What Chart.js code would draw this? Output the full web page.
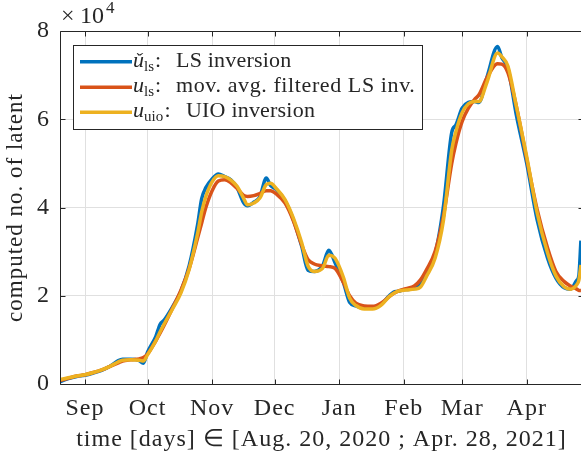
<!DOCTYPE html>
<html><head><meta charset="utf-8">
<script src="https://cdn.jsdelivr.net/npm/chart.js@4/dist/chart.umd.min.js"></script>
<style>html,body{margin:0;padding:0;background:#fff;overflow:hidden;width:581px;height:459px}</style>
</head><body>
<canvas id="c" width="590" height="459" style="display:block;width:590px;height:459px"></canvas>
<script>
// days since Aug. 20, 2020
const days = [0,4,8,12,16,20,24,28,30,34,38,40,42,46,48,50,54,58,62,66,68,70,73,76,79,82,85,88,90,93,96,99,101,104,108,112,116,119,122,126,129,132,136,139,142,146,150,154,158,160,162,166,170,173,176,180,184,188,190,193,196,199,201,205,210,212,215,219,224,229,234,238,242,245,248,249,250];
// values in units of 10^4
const lsInversion = [0.05,0.12,0.17,0.20,0.25,0.31,0.40,0.53,0.56,0.56,0.53,0.47,0.72,1.08,1.35,1.45,1.75,2.10,2.68,3.60,4.20,4.45,4.65,4.76,4.70,4.63,4.45,4.12,4.04,4.12,4.25,4.67,4.50,4.40,4.15,3.72,3.12,2.58,2.55,2.68,3.03,2.75,2.30,1.85,1.77,1.72,1.72,1.80,2.00,2.08,2.10,2.14,2.16,2.28,2.55,2.95,4.02,5.70,5.87,6.25,6.38,6.40,6.38,6.97,7.65,7.40,7.15,6.10,5.00,3.72,2.85,2.40,2.18,2.15,2.35,2.45,3.25];
const movAvgFiltered = [0.08,0.13,0.18,0.21,0.26,0.32,0.40,0.48,0.52,0.55,0.57,0.60,0.68,0.98,1.15,1.33,1.72,2.12,2.62,3.30,3.65,4.00,4.38,4.60,4.63,4.56,4.43,4.28,4.25,4.27,4.32,4.38,4.38,4.30,4.10,3.70,3.15,2.82,2.72,2.68,2.66,2.62,2.30,2.00,1.83,1.77,1.76,1.83,1.98,2.05,2.10,2.16,2.22,2.36,2.60,3.00,3.80,5.00,5.45,5.95,6.25,6.45,6.55,6.95,7.26,7.25,7.05,6.30,5.10,3.95,3.08,2.55,2.32,2.22,2.15,2.12,2.12];
const uioInversion = [0.10,0.14,0.18,0.21,0.26,0.32,0.40,0.50,0.54,0.55,0.54,0.52,0.66,0.98,1.18,1.36,1.70,2.06,2.60,3.40,3.90,4.25,4.58,4.72,4.70,4.62,4.48,4.22,4.06,4.10,4.22,4.52,4.55,4.42,4.18,3.76,3.20,2.68,2.55,2.62,2.92,2.85,2.42,1.95,1.78,1.70,1.70,1.78,1.98,2.05,2.10,2.13,2.15,2.20,2.45,2.85,3.70,5.30,5.72,6.15,6.35,6.40,6.40,6.85,7.50,7.42,7.20,6.30,5.15,3.88,2.97,2.45,2.20,2.15,2.25,2.35,2.70];
const monthTickDays = [12,42,73,103,134,165,193,224];
const monthTickLabels = ['Sep','Oct','Nov','Dec','Jan','Feb','Mar','Apr'];
const yTickValues = [0,20000,40000,60000,80000];
const SCALE = 10000;

const F = "'Liberation Serif','Times New Roman',serif";
const INK = '#262626';
const GRID = '#e0e0e0';
const COLORS = ['#0072BD','#D95319','#EDB120'];

const toPts = arr => days.map((d,i)=>({x:d, y:arr[i]*SCALE}));

const framePlugin = {
  id:'frame',
  beforeDraw(chart){ chart.ctx.letterSpacing = '1px'; },
  afterDatasetsDraw(chart){
    const {ctx, chartArea:a, scales:{x,y}} = chart;
    ctx.save();
    ctx.letterSpacing = '0px';
    ctx.strokeStyle = INK; ctx.lineWidth = 1;
    const L = Math.round(a.left)+0.5, T = Math.round(a.top)+0.5, R = Math.round(a.right)+0.5, B = Math.round(a.bottom)+0.5;
    ctx.beginPath();
    ctx.moveTo(L,T); ctx.lineTo(R,T); ctx.lineTo(R,B); ctx.lineTo(L,B); ctx.closePath();
    monthTickDays.forEach(d=>{ const px=Math.round(x.getPixelForValue(d))+0.5; ctx.moveTo(px,B); ctx.lineTo(px,B-5); ctx.moveTo(px,T); ctx.lineTo(px,T+5); });
    yTickValues.forEach(v=>{ const py=Math.round(y.getPixelForValue(v))+0.5; ctx.moveTo(L,py); ctx.lineTo(L+5,py); ctx.moveTo(R,py); ctx.lineTo(R-5,py); });
    ctx.stroke();

    // exponent label
    ctx.fillStyle = INK; ctx.textBaseline = 'alphabetic'; ctx.textAlign = 'left';
    ctx.font = `24px ${F}`;
    ctx.fillText('×', 61, 23);
    ctx.fillText('10', 80, 23);
    ctx.font = `17px ${F}`;
    ctx.fillText('4', 106, 13);

    // legend
    ctx.fillStyle = '#ffffff';
    ctx.fillRect(73.5,45.5,349,84);
    ctx.strokeStyle = INK; ctx.lineWidth = 1;
    ctx.strokeRect(73.5,45.5,349,84);
    const rows = [
      {sym:'ǔ', sub:'ls', colonX:155, textX:176, text:'LS inversion', ly:61.7, by:66.5},
      {sym:'u', sub:'ls', colonX:155, textX:176, text:'mov. avg. filtered LS inv.', ly:87.3, by:92},
      {sym:'u', sub:'uio', colonX:164.5, textX:186, text:'UIO inversion', ly:112.3, by:117}
    ];
    rows.forEach((r,i)=>{
      ctx.strokeStyle = COLORS[i]; ctx.lineWidth = 3.5; ctx.lineCap='butt';
      ctx.beginPath(); ctx.moveTo(80,r.ly); ctx.lineTo(132,r.ly); ctx.stroke();
      ctx.fillStyle = INK;
      ctx.letterSpacing = '0px';
      ctx.font = `italic 22px ${F}`;
      ctx.fillText(r.sym, 133, r.by);
      ctx.font = `15px ${F}`;
      ctx.fillText(r.sub, 144, r.by+4);
      ctx.font = `22px ${F}`;
      ctx.fillText(':', r.colonX, r.by);
      ctx.letterSpacing = i===1 ? '0.6px' : '0.2px';
      ctx.fillText(r.text, r.textX, r.by);
    });
    ctx.restore();
  }
};

new Chart(document.getElementById('c'), {
  type:'line',
  data:{ datasets:[
    {label:'LS inversion', data:toPts(lsInversion), borderColor:COLORS[0], borderWidth:3.5, pointRadius:0, cubicInterpolationMode:'monotone', order:3},
    {label:'mov. avg. filtered LS inv.', data:toPts(movAvgFiltered), borderColor:COLORS[1], borderWidth:3.5, pointRadius:0, cubicInterpolationMode:'monotone', order:2},
    {label:'UIO inversion', data:toPts(uioInversion), borderColor:COLORS[2], borderWidth:3.5, pointRadius:0, cubicInterpolationMode:'monotone', order:1}
  ]},
  options:{
    responsive:false, animation:false, devicePixelRatio:1,
    layout:{padding:{top:31,right:7,left:0,bottom:0}},
    plugins:{legend:{display:false}, tooltip:{enabled:false}},
    scales:{
      x:{
        type:'linear', min:0, max:251,
        afterBuildTicks: s => { s.ticks = monthTickDays.map(v=>({value:v})); },
        ticks:{autoSkip:false, maxRotation:0, padding:10, color:INK, font:{family:F,size:24},
          callback:(v)=>{ const k = monthTickDays.indexOf(v); return k>=0 ? monthTickLabels[k] : ''; }},
        grid:{color:GRID, drawTicks:false, lineWidth:1},
        border:{display:false},
        title:{display:true, text:'time [days] ∈ [Aug. 20, 2020 ; Apr. 28, 2021]', color:INK, font:{family:F,size:24}, padding:{top:0,bottom:5}},
        afterFit: s => { s.height = 75; }
      },
      y:{
        min:0, max:80000,
        afterBuildTicks: s => { s.ticks = yTickValues.map(v=>({value:v})); },
        ticks:{padding:10, color:INK, font:{family:F,size:24}, callback:v=>String(v/SCALE)},
        grid:{color:GRID, drawTicks:false, lineWidth:1},
        border:{display:false},
        title:{display:true, text:'computed no. of latent', color:INK, font:{family:F,size:23}, padding:{top:2,bottom:0}},
        afterFit: s => { s.width = 60; }
      }
    }
  },
  plugins:[framePlugin]
});
</script>
</body></html>
